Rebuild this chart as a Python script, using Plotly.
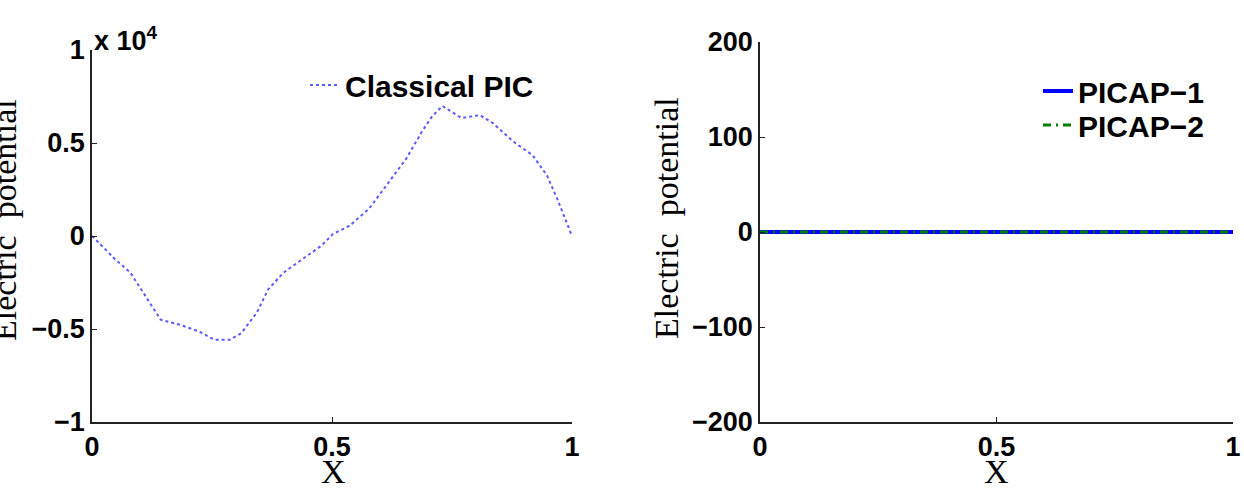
import plotly.graph_objects as go

W, H = 1244, 491

# ---- data ----
x_classical = [0.0, 0.048, 0.080, 0.112, 0.143, 0.183, 0.223, 0.255, 0.287, 0.311,
               0.343, 0.367, 0.399, 0.438, 0.478, 0.502, 0.536, 0.577, 0.619, 0.655,
               0.688, 0.709, 0.730, 0.770, 0.808, 0.835, 0.877, 0.918, 0.948, 0.969, 1.0]
phi_classical_e4 = [0.0, -0.125, -0.197, -0.323, -0.450, -0.477, -0.513, -0.558, -0.558, -0.522,
                    -0.414, -0.287, -0.197, -0.125, -0.052, 0.011, 0.054, 0.146, 0.293, 0.417,
                    0.564, 0.645, 0.699, 0.634, 0.650, 0.607, 0.509, 0.434, 0.325, 0.201, 0.0]

x_picap = [0.0, 0.1, 0.2, 0.3, 0.4, 0.5, 0.6, 0.7, 0.8, 0.9, 1.0]
phi_picap1 = [0, 0, 0, 0, 0, 0, 0, 0, 0, 0, 0]
phi_picap2 = [0, 0, 0, 0, 0, 0, 0, 0, 0, 0, 0]

x_ticks = [0, 0.5, 1]
x_ticktext = ["0", "0.5", "1"]
y1_ticks = [-1, -0.5, 0, 0.5, 1]
y1_ticktext = ["\u22121", "\u22120.5", "0", "0.5", "1"]
y2_ticks = [-200, -100, 0, 100, 200]
y2_ticktext = ["\u2212200", "\u2212100", "0", "100", "200"]

# ---- layout geometry (pixels) ----
def px(x):
    return x / W

def py(y):
    return 1 - y / H

TICKFONT = dict(family="Liberation Sans", size=27, color="black", weight="bold")
LEGFONT = dict(family="Liberation Sans", size=30, color="black", weight="bold")
SERIF = dict(family="Liberation Serif", size=34, color="black")

fig = go.Figure()

fig.add_trace(go.Scatter(
    x=x_classical, y=[v * 1e4 for v in phi_classical_e4], mode="lines",
    name="Classical PIC", line=dict(color="rgb(90,90,255)", width=2, dash="dot"),
    xaxis="x", yaxis="y", legend="legend"))

fig.add_trace(go.Scatter(
    x=x_picap, y=phi_picap1, mode="lines", name="PICAP\u22121",
    line=dict(color="#0000ff", width=4), xaxis="x2", yaxis="y2", legend="legend2"))
fig.add_trace(go.Scatter(
    x=x_picap, y=phi_picap2, mode="lines", name="PICAP\u22122",
    line=dict(color="#008000", width=3, dash="8px,5px,2px,5px"),
    xaxis="x2", yaxis="y2", legend="legend3"))

axis_common = dict(showgrid=False, zeroline=False, showline=True, linecolor="#222",
                   linewidth=1.5, ticks="inside", ticklen=5, tickcolor="#222",
                   tickfont=TICKFONT, mirror=False, automargin=False)

leg_common = dict(xanchor="left", yanchor="middle", bgcolor="rgba(0,0,0,0)", font=LEGFONT)

fig.update_layout(
    width=W, height=H,
    margin=dict(l=0, r=0, t=0, b=0),
    paper_bgcolor="white", plot_bgcolor="white",
    xaxis=dict(domain=[px(92), px(572)], range=[0, 1], tickvals=x_ticks,
               ticktext=x_ticktext, anchor="y", **axis_common),
    yaxis=dict(domain=[py(422), py(50)], range=[-1e4, 1e4],
               tickvals=[v * 1e4 for v in y1_ticks], ticktext=y1_ticktext,
               anchor="x", **axis_common),
    xaxis2=dict(domain=[px(760), px(1233)], range=[0, 1], tickvals=x_ticks,
                ticktext=x_ticktext, anchor="y2", **axis_common),
    yaxis2=dict(domain=[py(422), py(42)], range=[-200, 200],
                tickvals=y2_ticks, ticktext=y2_ticktext, anchor="x2", **axis_common),
    legend=dict(x=px(305), y=py(85), **leg_common),
    legend2=dict(x=px(1038), y=py(91), **leg_common),
    legend3=dict(x=px(1038), y=py(125), **leg_common),
    showlegend=True,
)

annotations = [
    dict(text="x 10<sup>4</sup>", x=px(92), y=py(58), xanchor="left", yanchor="bottom",
         font=dict(family="Liberation Sans", size=27, color="black", weight="bold")),
    dict(text="X", x=px(333), y=py(471), xanchor="center", yanchor="middle", font=SERIF),
    dict(text="X", x=px(996), y=py(471), xanchor="center", yanchor="middle", font=SERIF),
    dict(text="Electric  potential", x=px(4), y=py(220), xanchor="center", yanchor="middle",
         textangle=-90, font=SERIF),
    dict(text="Electric  potential", x=px(667), y=py(218), xanchor="center", yanchor="middle",
         textangle=-90, font=SERIF),
]
for a in annotations:
    a.update(xref="paper", yref="paper", showarrow=False)
fig.update_layout(annotations=annotations)

fig.write_html("out.html")
